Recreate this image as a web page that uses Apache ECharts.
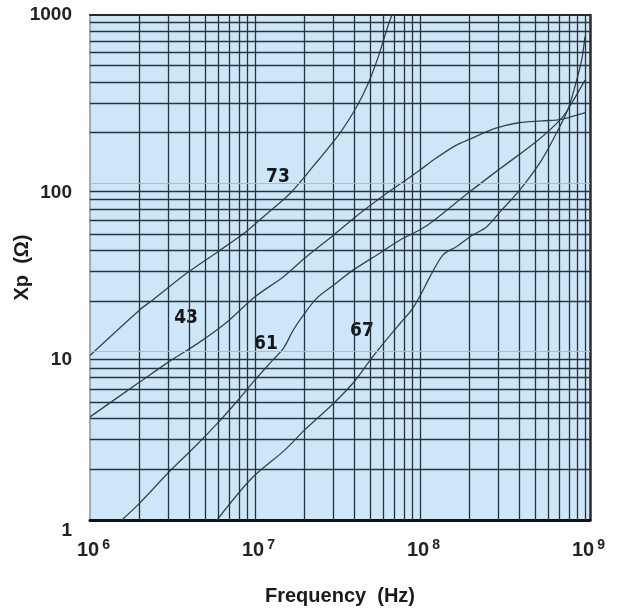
<!DOCTYPE html>
<html>
<head>
<meta charset="utf-8">
<script src="https://cdn.jsdelivr.net/npm/echarts@6/dist/echarts.min.js"></script>
<style>
  html, body { margin: 0; padding: 0; background: #ffffff; }
  #chart { width: 622px; height: 610px; }
</style>
</head>
<body>
<div id="chart"></div>
<script>
// Reactance Xp (ohms) versus frequency (Hz) for four ferrite materials.
const curve73 = [[1e6,9.5],[2.0e6,17.7],[2.4e6,20.3],[3.85e6,29.2],[5.9e6,39],[8.9e6,52],[1.18e7,66],[1.63e7,87],[2.25e7,126],[3.27e7,199],[4.13e7,285],[4.86e7,393],[5.59e7,566],[6.28e7,815],[6.75e7,1000]];
const curve43 = [[1e6,4.1],[2.0e6,6.6],[3.0e6,8.7],[4.5e6,11.2],[6.6e6,14.7],[1e7,21.2],[1.49e7,27.9],[2.0e7,35.9],[3.0e7,49.4],[4.33e7,66.4],[6.28e7,87.4],[7.57e7,99],[1e8,120],[1.21e8,138],[1.63e8,167],[2.0e8,183],[2.85e8,212],[3.95e8,229],[5.47e8,235],[7.23e8,240],[1e9,263]];
const curve61 = [[1.56e6,1.0],[2.0e6,1.26],[3.0e6,1.92],[4.33e6,2.73],[6.05e6,3.84],[7.9e6,5.16],[1e7,6.8],[1.28e7,8.9],[1.49e7,10.5],[1.71e7,13.5],[2.0e7,16.9],[2.37e7,20.8],[3.0e7,24.9],[3.95e7,30.6],[5.73e7,38.6],[7.57e7,46.1],[1e8,53],[1.21e8,60],[2.0e8,89],[3.05e8,122],[5.21e8,181],[7.22e8,244],[8.3e8,299],[1e9,410]];
const curve67 = [[5.88e6,1.0],[9.55e6,1.77],[1.52e7,2.61],[2.0e7,3.43],[3.0e7,4.94],[4.04e7,6.72],[5.0e7,8.93],[6.0e7,11.2],[7.57e7,14.7],[8.9e7,17.7],[1e8,21.4],[1.15e8,27.9],[1.38e8,37.6],[1.67e8,42.1],[2.01e8,48.2],[2.54e8,55.3],[3.13e8,69.5],[4.03e8,91.4],[5.47e8,138],[6.88e8,208],[7.93e8,279],[8.69e8,376],[9.55e8,541],[1e9,744]];

// Material names and where their labels sit (frequency, Xp)
const curveNames = ['73', '43', '61', '67'];
const labelFreq = [1.378e7, 3.82e6, 1.166e7, 4.45e7];
const labelXp = [109, 15.9, 11.1, 13.3];

// Axis tick labels
const xTickExponents = ['6', '7', '8', '9'];
const yTickLabels = ['1', '10', '100', '1000'];

const X_MIN = 1e6, X_DATA_MAX = 1e9;
// plot frame runs a few pixels past 10^9
const X_MAX = Math.pow(10, 9 + 5 / 165);
const Y_MIN = 1, Y_MAX = 1000;

const GRID = '#27343d';
const CURVE = '#34454f';
const FONT = "'Liberation Sans', Arial, Helvetica, sans-serif";
const NARROW = "'DejaVu Sans Condensed', 'Liberation Sans Narrow', 'Arial Narrow', sans-serif";

// grid lines at 2..9 within each decade plus the inner decades
const vLines = [], hLines = [];
for (let d = 6; d <= 8; d++) {
  for (let m = 1; m <= 9; m++) {
    if (d === 6 && m === 1) continue;
    vLines.push({ xAxis: m * Math.pow(10, d) });
  }
}
vLines.push({ xAxis: X_DATA_MAX });
for (let d = 0; d <= 2; d++) {
  for (let m = 1; m <= 9; m++) {
    if (d === 0 && m === 1) continue;
    const item = { yAxis: m * Math.pow(10, d) };
    if (m === 1) item.lineStyle = { color: '#a6c0d2', width: 1 };
    hLines.push(item);
  }
}

const curves = [curve73, curve43, curve61, curve67];

const series = [{
  type: 'line',
  data: [],
  z: 1,
  silent: true,
  markLine: {
    silent: true,
    symbol: ['none', 'none'],
    label: { show: false },
    animation: false,
    lineStyle: { type: 'solid', color: GRID, width: 1.3 },
    data: vLines.concat(hLines)
  }
}];

curves.forEach(function (c) {
  series.push({
    type: 'line',
    data: c,
    z: 3,
    smooth: 0.3,
    symbol: 'none',
    silent: true,
    lineStyle: { color: CURVE, width: 1.3 }
  });
});

series.push({
  type: 'scatter',
  z: 4,
  symbolSize: 0,
  silent: true,
  itemStyle: { opacity: 1 },
  data: curveNames.map(function (n, i) { return [labelFreq[i], labelXp[i], n]; }),
  label: {
    show: true,
    position: 'inside',
    formatter: function (p) { return p.value[2]; },
    fontFamily: NARROW,
    fontWeight: 'bold',
    fontSize: 19,
    color: '#161616'
  }
});

// vertical nudge for each y tick label
const yLabelPad = { '1': 22, '10': 16, '100': 18, '1000': 0 };
const yRich = {};
yTickLabels.forEach(function (t) {
  yRich['v' + t] = { padding: [yLabelPad[t], 0, 0, 0], fontFamily: FONT, fontWeight: 'bold', fontSize: 19, color: '#222' };
});

const chart = echarts.init(document.getElementById('chart'), null, { renderer: 'canvas' });
chart.setOption({
  animation: false,
  backgroundColor: '#ffffff',
  grid: {
    left: 90, top: 15, width: 500, height: 505,
    containLabel: false, outerBoundsMode: 'none',
    show: true, backgroundColor: '#cde7f8', borderWidth: 0
  },
  xAxis: [{
    type: 'log',
    min: X_MIN,
    max: X_MAX,
    name: 'Frequency  (Hz)',
    nameLocation: 'middle',
    nameGap: 66,
    nameMoveOverlap: false,
    nameTextStyle: { fontFamily: FONT, fontWeight: 'bold', fontSize: 20, color: '#1a1a1a' },
    axisLine: { show: true, lineStyle: { color: '#111', width: 3 } },
    axisTick: { show: false },
    splitLine: { show: false },
    axisLabel: {
      margin: 18,
      formatter: function (v) {
        const e = Math.round(Math.log10(v));
        if (Math.abs(Math.log10(v) - e) > 1e-6) return '';
        const s = xTickExponents[e - 6];
        return s === undefined ? '' : '{p|}{b|10}{s|' + s + '}';
      },
      rich: {
        p: { width: 7 },
        b: { fontFamily: FONT, fontWeight: 'bold', fontSize: 20, lineHeight: 24, color: '#222' },
        s: { fontFamily: FONT, fontWeight: 'bold', fontSize: 14, lineHeight: 18, verticalAlign: 'top', color: '#222', padding: [0, 0, 0, 3] }
      }
    }
  }, {
    type: 'log',
    min: X_MIN,
    max: X_MAX,
    position: 'top',
    axisLine: { show: true, lineStyle: { color: '#2a2a2a', width: 2 } },
    axisTick: { show: false },
    axisLabel: { show: false },
    splitLine: { show: false }
  }],
  yAxis: [{
    type: 'log',
    min: Y_MIN,
    max: Y_MAX,
    name: 'Xp  (Ω)',
    nameLocation: 'middle',
    nameRotate: 90,
    nameGap: 58,
    nameMoveOverlap: false,
    nameTextStyle: { fontFamily: FONT, fontWeight: 'bold', fontSize: 20, color: '#1a1a1a' },
    axisLine: { show: true, lineStyle: { color: '#87939b', width: 1.5 } },
    axisTick: { show: false },
    splitLine: { show: false },
    axisLabel: {
      margin: 18,
      formatter: function (v) {
        const t = String(Math.round(v));
        return yTickLabels.indexOf(t) >= 0 ? '{v' + t + '|' + t + '}' : '';
      },
      rich: yRich
    }
  }, {
    type: 'log',
    min: Y_MIN,
    max: Y_MAX,
    position: 'right',
    axisLine: { show: true, lineStyle: { color: '#2a2a2a', width: 2.5 } },
    axisTick: { show: false },
    axisLabel: { show: false },
    splitLine: { show: false }
  }],
  series: series
});
</script>
</body>
</html>
